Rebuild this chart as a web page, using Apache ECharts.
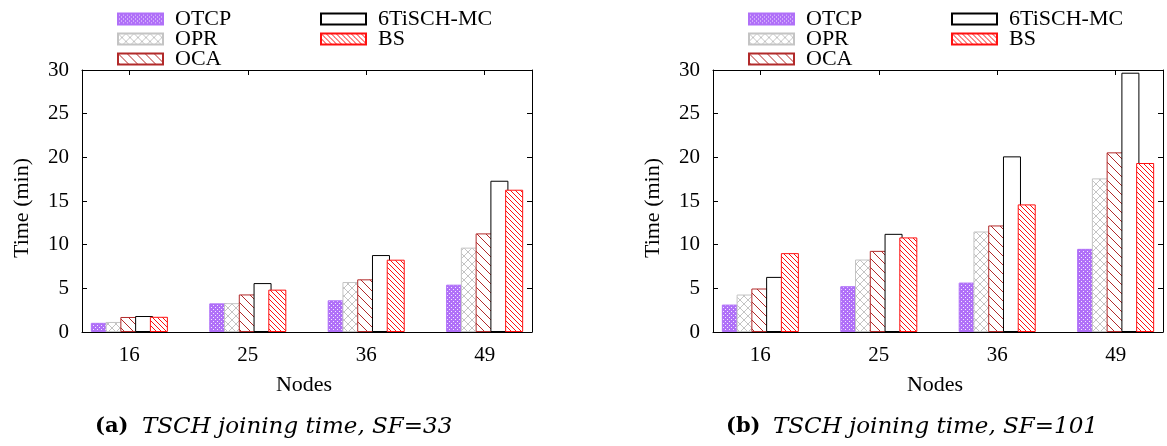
<!DOCTYPE html>
<html>
<head>
<meta charset="utf-8">
<script src="https://cdn.jsdelivr.net/npm/echarts@6/dist/echarts.min.js"></script>
<style>
  html, body { margin: 0; padding: 0; background: #fff; }
  #chart { width: 1167px; height: 446px; }
</style>
</head>
<body>
<div id="chart"></div>
<script>
// Node counts on the x axis
const categories = ['16', '25', '36', '49'];
const seriesNames = ['OTCP', 'OPR', 'OCA', '6TiSCH-MC', 'BS'];

// Joining time (min), SF = 33
const otcpSF33 = [1.05, 3.28, 3.63, 5.42];
const oprSF33  = [1.15, 3.30, 5.72, 9.66];
const ocaSF33  = [1.72, 4.30, 6.03, 11.29];
const mcSF33   = [1.83, 5.60, 8.81, 17.32];
const bsSF33   = [1.74, 4.85, 8.28, 16.29];

// Joining time (min), SF = 101
const otcpSF101 = [3.14, 5.24, 5.66, 9.52];
const oprSF101  = [4.29, 8.30, 11.51, 17.59];
const ocaSF101  = [4.98, 9.29, 12.20, 20.57];
const mcSF101   = [6.31, 11.24, 20.11, 29.69];
const bsSF101   = [9.03, 10.83, 14.61, 19.35];

const yTicks = [0, 5, 10, 15, 20, 25, 30];
const captionTags = ['(a)', '(b)'];
const captionTexts = ['TSCH joining time, SF=33', 'TSCH joining time, SF=101'];
const xTitle = 'Nodes';
const yTitle = 'Time (min)';

const panelValues = [
  [otcpSF33, oprSF33, ocaSF33, mcSF33, bsSF33],
  [otcpSF101, oprSF101, ocaSF101, mcSF101, bsSF101]
];

// ---- fill patterns -------------------------------------------------------
function tile(n, draw) {
  const c = document.createElement('canvas');
  c.width = n; c.height = n;
  const g = c.getContext('2d');
  g.fillStyle = '#fff';
  g.fillRect(0, 0, n, n);
  draw(g, n);
  return { image: c, repeat: 'repeat' };
}
function diag(g, n, color, back) {
  g.strokeStyle = color;
  g.lineWidth = 1;
  for (const o of [-n, 0, n]) {
    g.beginPath();
    if (back) { g.moveTo(o - 1, n + 1); g.lineTo(o + n + 1, -1); }
    else { g.moveTo(o - 1, -1); g.lineTo(o + n + 1, n + 1); }
    g.stroke();
  }
}
const purple = '#b070f8';
const gray = '#c4c4c4';
const darkRed = '#b22a2a';
const red = '#ff1010';

const patterns = [
  tile(4, (g, n) => {
    g.fillStyle = purple; g.fillRect(0, 0, n, n);
    g.fillStyle = '#f4e8ff';
    g.fillRect(1, 1, 1, 1); g.fillRect(3, 3, 1, 1);
  }),
  tile(8, (g, n) => { diag(g, n, gray, false); diag(g, n, gray, true); }),
  tile(9, (g, n) => diag(g, n, darkRed, false)),
  '#ffffff',
  tile(5, (g, n) => diag(g, n, red, false))
];
const borders = [purple, gray, darkRed, '#000', red];

// ---- layout --------------------------------------------------------------
const panelLeft = [82, 713];
const plotTop = 70, plotW = 450, plotH = 262;
const xMin = -0.4, xMax = categories.length - 0.6;
const serif = '"Times New Roman", "Liberation Serif", serif';
const tickIdx = categories.map((_, i) => i);

const grids = [], xAxes = [], yAxes = [], series = [], legends = [], graphics = [];

panelLeft.forEach((left, p) => {
  grids.push({ left: left, top: plotTop, width: plotW, height: plotH });

  const baseX = {
    gridIndex: p, type: 'value', min: xMin, max: xMax,
    splitLine: { show: false },
    axisLine: { show: true, onZero: false, lineStyle: { color: '#000', width: 1 } },
    z: 5
  };
  xAxes.push(Object.assign({}, baseX, {
    position: 'bottom',
    axisTick: { show: false },
    axisLabel: {
      customValues: tickIdx,
      formatter: v => categories[Math.round(v)],
      color: '#000', fontFamily: serif, fontSize: 21, margin: 13
    }
  }));
  xAxes.push(Object.assign({}, baseX, {
    position: 'top',
    axisTick: { show: true, inside: true, length: 5, customValues: tickIdx, lineStyle: { color: '#000' } },
    axisLabel: { show: false }
  }));

  const baseY = {
    gridIndex: p, type: 'value', min: yTicks[0], max: yTicks[yTicks.length - 1],
    interval: yTicks[1] - yTicks[0],
    splitLine: { show: false },
    axisLine: { show: true, onZero: false, lineStyle: { color: '#000', width: 1 } },
    axisTick: { show: true, inside: true, length: 5, lineStyle: { color: '#000' } },
    z: 5
  };
  yAxes.push(Object.assign({}, baseY, {
    position: 'left',
    axisLabel: { color: '#000', fontFamily: serif, fontSize: 21, margin: 13 }
  }));
  yAxes.push(Object.assign({}, baseY, {
    position: 'right',
    axisLabel: { show: false }
  }));

  seriesNames.forEach((name, s) => {
    series.push({
      type: 'bar', name: name,
      xAxisIndex: p * 2, yAxisIndex: p * 2,
      data: panelValues[p][s].map((v, i) => [i, v]),
      barWidth: 18, barGap: '-18%',
      itemStyle: { color: patterns[s], borderColor: borders[s], borderWidth: 1 },
      silent: true, animation: false
    });
  });

  const legendBase = {
    orient: 'vertical', top: 8, padding: 0, itemGap: -2,
    itemWidth: 45, itemHeight: 11, icon: 'rect', selectedMode: false,
    textStyle: { color: '#000', fontFamily: serif, fontSize: 22, lineHeight: 20, padding: [0, 0, 0, 7] }
  };
  legends.push(Object.assign({}, legendBase, { left: left + 35, data: seriesNames.slice(0, 3) }));
  legends.push(Object.assign({}, legendBase, { left: left + 238, data: seriesNames.slice(3) }));

  graphics.push({
    type: 'text', x: left + plotW / 2 - 3, y: 385,
    style: { text: xTitle, fill: '#000', font: '22px ' + serif, textAlign: 'center', textVerticalAlign: 'middle' }
  });
  graphics.push({
    type: 'text', x: left - 60, y: plotTop + plotH / 2 + 7, rotation: Math.PI / 2,
    style: { text: yTitle, fill: '#000', font: '22px ' + serif, textAlign: 'center', textVerticalAlign: 'middle' }
  });
  graphics.push({
    type: 'text', x: left + 13, y: 427,
    style: { text: captionTags[p], fill: '#000', font: 'bold 21px "DejaVu Serif"', textAlign: 'left', textVerticalAlign: 'middle' }
  });
  graphics.push({
    type: 'text', x: left + 60, y: 427,
    style: { text: captionTexts[p], fill: '#000', font: 'italic 23px "DejaVu Serif"', textAlign: 'left', textVerticalAlign: 'middle' }
  });
});

const chart = echarts.init(document.getElementById('chart'), null, { renderer: 'canvas' });
chart.setOption({
  backgroundColor: '#fff',
  animation: false,
  grid: grids,
  xAxis: xAxes,
  yAxis: yAxes,
  legend: legends,
  series: series,
  graphic: graphics
});
</script>
</body>
</html>
